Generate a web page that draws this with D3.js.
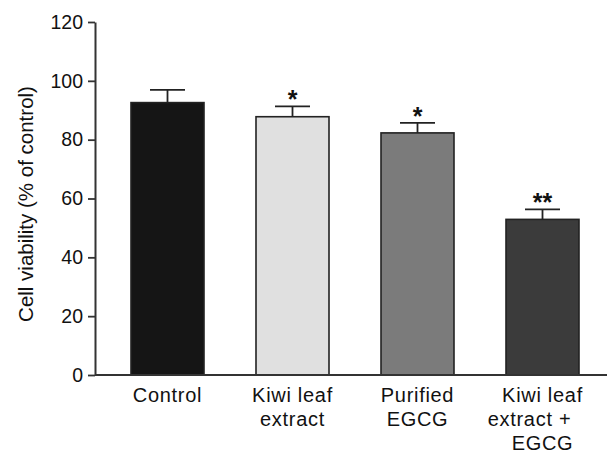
<!DOCTYPE html>
<html><head><meta charset="utf-8">
<script src="https://cdn.jsdelivr.net/npm/d3@7"></script>
<style>body{margin:0;background:#fff}text{font-family:"Liberation Sans",Arial,sans-serif;fill:#111}</style>
</head><body><svg id="c" width="607" height="454"></svg>
<script>
const categories = [["Control"],["Kiwi leaf","extract"],["Purified","EGCG"],["Kiwi leaf","extract +","EGCG"]];
const values = [92.6, 87.8, 82.3, 52.9];
const errors = [4.3, 3.5, 3.4, 3.4];
const marks = ["", "*", "*", "**"];
const colors = ["#151515", "#e0e0e0", "#7b7b7b", "#3b3b3b"];
const yTicks = [0, 20, 40, 60, 80, 100, 120];

const svg = d3.select("#c");
const x = d3.scaleBand().domain(d3.range(values.length)).range([105, 605]).paddingInner(0.416).paddingOuter(0.208);
const y = d3.scaleLinear().domain([0, 120]).range([375, 22]);

// bars
svg.selectAll("rect.bar").data(values).join("rect")
  .attr("x", (d,i)=>x(i)).attr("width", x.bandwidth())
  .attr("y", d=>y(d)).attr("height", d=>y(0)-y(d))
  .attr("fill", (d,i)=>colors[i]).attr("stroke", "#222").attr("stroke-width", 1.6);

// error bars
const g = svg.append("g").attr("stroke", "#222").attr("stroke-width", 1.8);
values.forEach((v,i)=>{
  const cx = x(i) + x.bandwidth()/2;
  g.append("line").attr("x1", cx).attr("x2", cx).attr("y1", y(v)).attr("y2", y(v+errors[i]));
  g.append("line").attr("x1", cx-17.5).attr("x2", cx+17.5).attr("y1", y(v+errors[i])).attr("y2", y(v+errors[i]));
});

// significance marks
svg.selectAll("text.sig").data(marks).join("text")
  .attr("x", (d,i)=>x(i)+x.bandwidth()/2)
  .attr("y", (d,i)=>y(values[i]+errors[i]) + 2)
  .attr("text-anchor", "middle").attr("font-size", 25).attr("font-weight", "bold").text(d=>d);

// y axis
const ya = svg.append("g").attr("transform", "translate(95,0)")
  .call(d3.axisLeft(y).tickValues(yTicks).tickSize(7).tickSizeOuter(0).tickPadding(5));
ya.select(".domain").attr("stroke", "#333").attr("stroke-width", 2);
ya.selectAll(".tick line").attr("stroke", "#333").attr("stroke-width", 1.8);
ya.selectAll(".tick text").attr("font-size", 19.5).attr("fill", "#111")
  .attr("font-family", "Liberation Sans, Arial, sans-serif");

// x axis line
svg.append("line").attr("x1", 95).attr("x2", 607).attr("y1", y(0)).attr("y2", y(0))
  .attr("stroke", "#333").attr("stroke-width", 2);

// category labels
const lineShift = {"extract +": -13};
categories.forEach((lines,i)=>{
  const cx = x(i)+x.bandwidth()/2;
  const t = svg.append("text").attr("text-anchor", "middle").attr("font-size", 20)
    .attr("letter-spacing", 0.7).attr("x", cx).attr("y", 402);
  lines.forEach((l,j)=>t.append("tspan").attr("x", cx + (lineShift[l]||0)).attr("dy", j===0?0:24).text(l));
});

// y label
svg.append("text").attr("transform", "translate(33,204) rotate(-90)")
  .attr("text-anchor", "middle").attr("font-size", 20.5).text("Cell viability (% of control)");
</script></body></html>
